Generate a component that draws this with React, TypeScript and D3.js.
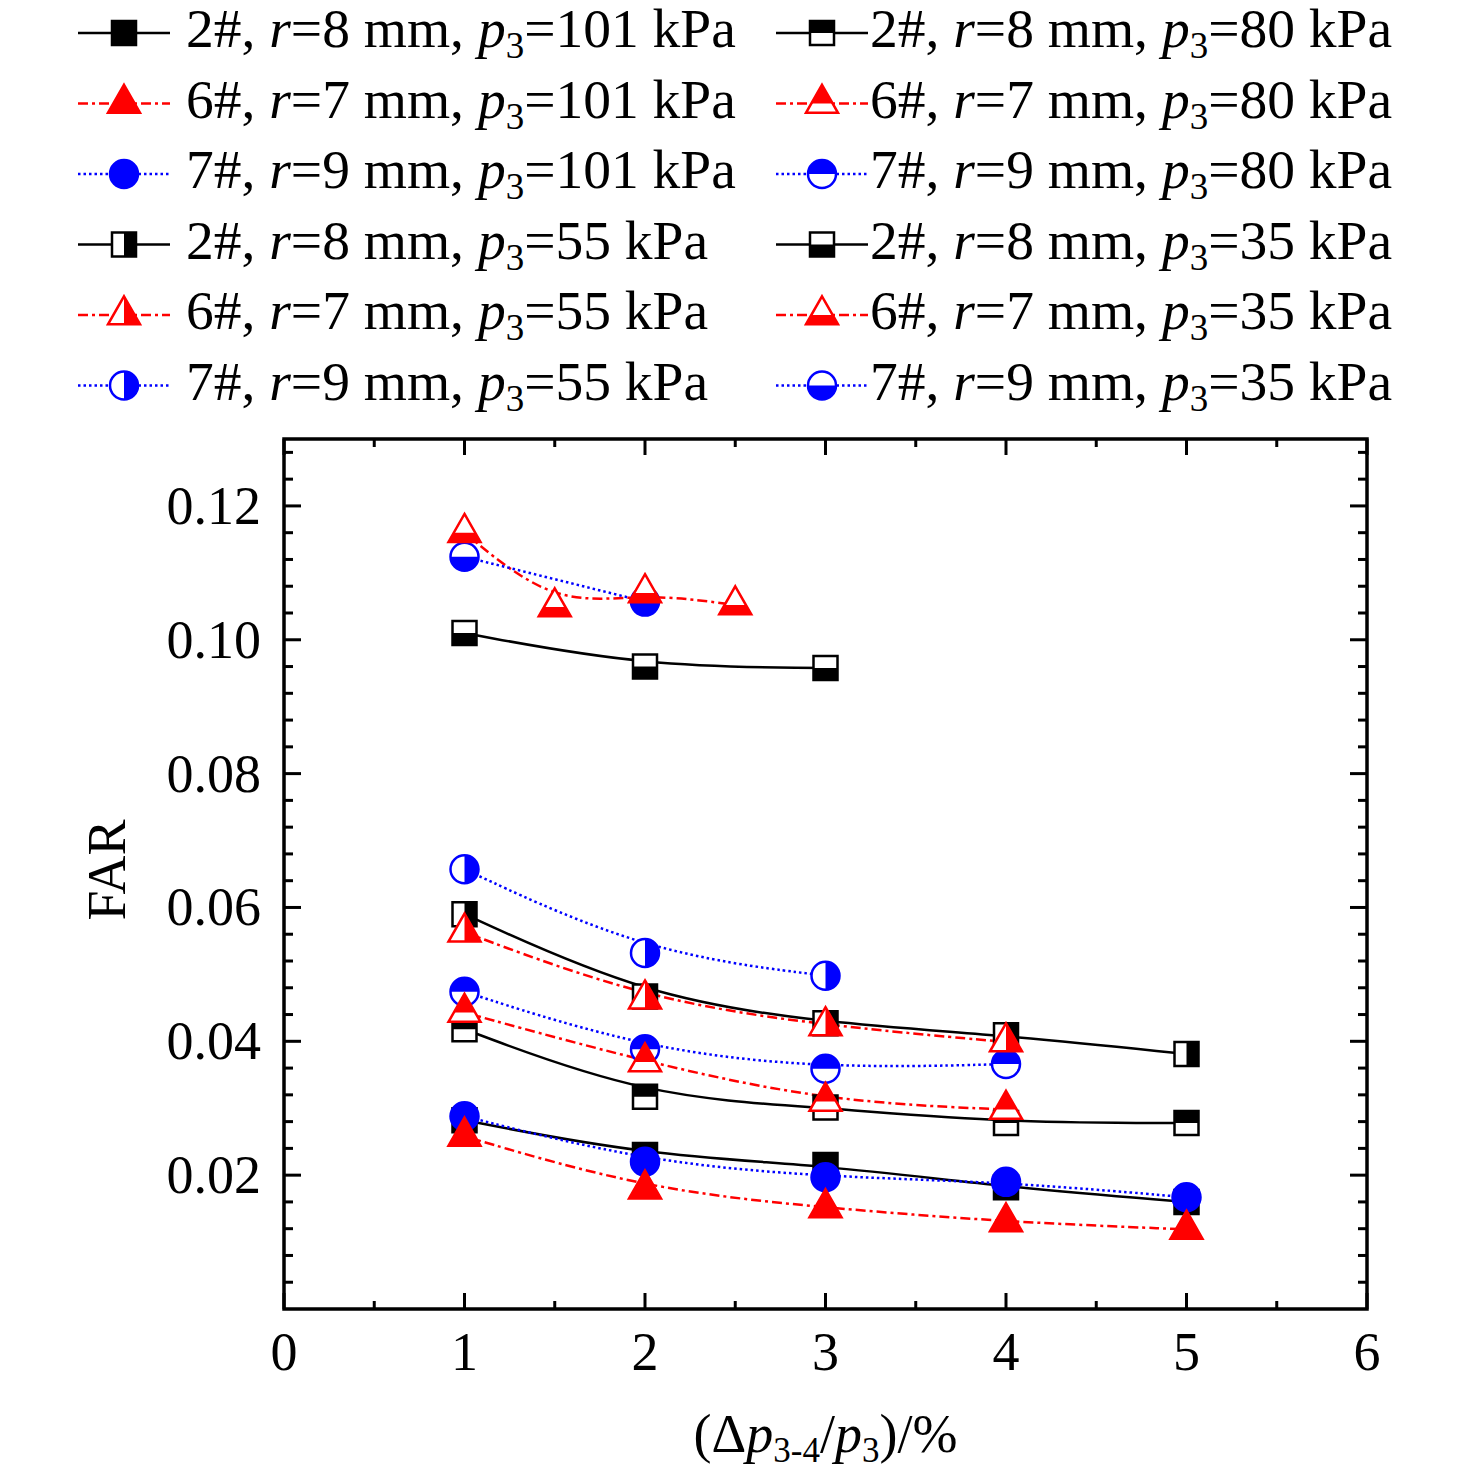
import React from "react";
import * as d3 from "d3";

// FAR vs (Δp3-4/p3) for specimens 2#, 6#, 7# at four inlet pressures

const W = 1476;
const H = 1475;
const margin = { top: 439, right: 109, bottom: 166, left: 284 };
const font = "'Liberation Serif', 'Times New Roman', serif";
const fontSize = 54;
const legendSize = 55.5;

const xTicks = [0, 1, 2, 3, 4, 5, 6];
const yTicks = [0.02, 0.04, 0.06, 0.08, 0.1, 0.12];
const yTickLabels = ["0.02", "0.04", "0.06", "0.08", "0.10", "0.12"];

const x5 = [1, 2, 3, 4, 5];
const x4 = [1, 2, 3, 4];
const x3 = [1, 2, 3];
const x2 = [1, 2];
const xHalf = [1, 1.5, 2, 2.5];

const s2p101 = [0.0282, 0.023, 0.0215, 0.0182, 0.016];
const s6p101 = [0.0258, 0.0179, 0.0151, 0.013, 0.0119];
const s7p101 = [0.0288, 0.022, 0.0197, 0.019, 0.0167];
const s2p80 = [0.0418, 0.0317, 0.0301, 0.0278, 0.0278];
const s6p80 = [0.0443, 0.0369, 0.031, 0.0298];
const s7p80 = [0.0474, 0.0388, 0.0359, 0.0366];
const s2p55 = [0.059, 0.0467, 0.0427, 0.0409, 0.0381];
const s6p55 = [0.0563, 0.0463, 0.0423, 0.0399];
const s7p55 = [0.0657, 0.0532, 0.0498];
const s2p35 = [0.101, 0.096, 0.0958];
const s6p35 = [0.116, 0.1049, 0.107, 0.1052];
const s7p35 = [0.1124, 0.1057];

type Spec = { id: string; r: string; color: string; shape: string; dash: string };
const specs: Record<string, Spec> = {
  "2": { id: "2", r: "8", color: "#000000", shape: "square", dash: "" },
  "6": { id: "6", r: "7", color: "#ff0000", shape: "triangle", dash: "10 4 3 4" },
  "7": { id: "7", r: "9", color: "#0000ff", shape: "circle", dash: "2.5 3" },
};
// which half of the marker is filled, per pressure
const fillOf: Record<string, string> = { "101": "full", "80": "top", "55": "right", "35": "bottom" };

const series = [
  { spec: "2", p: "101", xs: x5, ys: s2p101 },
  { spec: "6", p: "101", xs: x5, ys: s6p101 },
  { spec: "7", p: "101", xs: x5, ys: s7p101 },
  { spec: "2", p: "55", xs: x5, ys: s2p55 },
  { spec: "6", p: "55", xs: x4, ys: s6p55 },
  { spec: "7", p: "55", xs: x3, ys: s7p55 },
  { spec: "2", p: "80", xs: x5, ys: s2p80 },
  { spec: "6", p: "80", xs: x4, ys: s6p80 },
  { spec: "7", p: "80", xs: x4, ys: s7p80 },
  { spec: "2", p: "35", xs: x3, ys: s2p35 },
  { spec: "6", p: "35", xs: xHalf, ys: s6p35 },
  { spec: "7", p: "35", xs: x2, ys: s7p35 },
];

const shapePath = (shape: string) => {
  if (shape === "square") return "M-12,-12H12V12H-12Z";
  if (shape === "triangle") return "M0,-18.7L16,9.3L-16,9.3Z";
  return d3.symbol(d3.symbolCircle, Math.PI * 14 * 14)() as string;
};

const Marker = ({ x, y, spec, fill }: { x: number; y: number; spec: Spec; fill: string }) => {
  const d = shapePath(spec.shape);
  return (
    <g transform={`translate(${x},${y})`}>
      <path d={d} fill={fill === "full" ? spec.color : "#fff"} stroke={spec.color} strokeWidth={2.5} />
      {fill !== "full" && <path d={d} fill={spec.color} clipPath={`url(#half-${fill})`} />}
    </g>
  );
};

const LegendText = ({ x, y, spec, p }: { x: number; y: number; spec: Spec; p: string }) => (
  <text x={x} y={y} fontFamily={font} fontSize={legendSize}>
    {`${spec.id}#, `}
    <tspan fontStyle="italic">r</tspan>
    {`=${spec.r} mm, `}
    <tspan fontStyle="italic">p</tspan>
    <tspan fontSize={37} dy={11}>3</tspan>
    <tspan dy={-11}>{`=${p} kPa`}</tspan>
  </text>
);

export default function App() {
  const x = d3.scaleLinear().domain([0, 6]).range([margin.left, W - margin.right]);
  const y = d3.scaleLinear().domain([0, 0.13]).range([H - margin.bottom, margin.top]);
  const [x0, x1] = x.range();
  const [y0, y1] = y.range();

  const xMinor = d3.range(0.5, 6, 1);
  const yMinor = d3.range(0.004, 0.1301, 0.004).filter((v) => Math.abs(v / 0.02 - Math.round(v / 0.02)) > 1e-6);

  const line = d3
    .line<[number, number]>()
    .x((d) => x(d[0]))
    .y((d) => y(d[1]))
    .curve(d3.curveBasis);

  const shapeOrder = ["square", "circle", "triangle"];

  const legendLeft = [
    { spec: "2", p: "101" }, { spec: "6", p: "101" }, { spec: "7", p: "101" },
    { spec: "2", p: "55" }, { spec: "6", p: "55" }, { spec: "7", p: "55" },
  ];
  const legendRight = [
    { spec: "2", p: "80" }, { spec: "6", p: "80" }, { spec: "7", p: "80" },
    { spec: "2", p: "35" }, { spec: "6", p: "35" }, { spec: "7", p: "35" },
  ];
  const legendCols = [
    { items: legendLeft, lx0: 78, lx1: 170, mx: 124, tx: 186 },
    { items: legendRight, lx0: 776, lx1: 868, mx: 822, tx: 870 },
  ];

  return (
    <svg width={W} height={H} style={{ position: "absolute", left: 0, top: 0, background: "#fff" }}>
      <defs>
        <clipPath id="half-top"><rect x={-30} y={-30} width={60} height={30} /></clipPath>
        <clipPath id="half-bottom"><rect x={-30} y={0} width={60} height={30} /></clipPath>
        <clipPath id="half-right"><rect x={0} y={-30} width={30} height={60} /></clipPath>
        <clipPath id="half-left"><rect x={-30} y={-30} width={30} height={60} /></clipPath>
      </defs>
      <rect width={W} height={H} fill="#fff" />

      {/* legend */}
      {legendCols.map((col, ci) =>
        col.items.map((it, i) => {
          const spec = specs[it.spec];
          const by = 47 + i * 70.5;
          const ly = by - 14;
          return (
            <g key={`${ci}-${i}`}>
              <line x1={col.lx0} x2={col.lx1} y1={ly} y2={ly} stroke={spec.color} strokeWidth={2.5} strokeDasharray={spec.dash} />
              <Marker x={col.mx} y={ly} spec={spec} fill={fillOf[it.p]} />
              <LegendText x={col.tx} y={by} spec={spec} p={it.p} />
            </g>
          );
        })
      )}

      {/* lines */}
      {series.map((s, i) => {
        const spec = specs[s.spec];
        const pts = s.xs.map((v, j) => [v, s.ys[j]] as [number, number]);
        return (
          <path key={`l${i}`} d={line(pts) ?? ""} fill="none" stroke={spec.color} strokeWidth={2.5} strokeDasharray={spec.dash} />
        );
      })}

      {/* markers: squares, then circles, then triangles */}
      {shapeOrder.map((shape) =>
        series
          .filter((s) => specs[s.spec].shape === shape)
          .map((s, i) =>
            s.xs.map((v, j) => (
              <Marker key={`${shape}-${i}-${j}`} x={x(v)} y={y(s.ys[j])} spec={specs[s.spec]} fill={fillOf[s.p]} />
            ))
          )
      )}

      {/* frame and ticks */}
      <rect x={x0} y={y1} width={x1 - x0} height={y0 - y1} fill="none" stroke="#000" strokeWidth={3.5} />
      {xTicks.map((t) => (
        <g key={`xt${t}`}>
          <line x1={x(t)} x2={x(t)} y1={y0} y2={y0 - 16} stroke="#000" strokeWidth={3} />
          <line x1={x(t)} x2={x(t)} y1={y1} y2={y1 + 16} stroke="#000" strokeWidth={3} />
          <text x={x(t)} y={1370} textAnchor="middle" fontFamily={font} fontSize={fontSize}>{t}</text>
        </g>
      ))}
      {xMinor.map((t) => (
        <g key={`xm${t}`}>
          <line x1={x(t)} x2={x(t)} y1={y0} y2={y0 - 8} stroke="#000" strokeWidth={3} />
          <line x1={x(t)} x2={x(t)} y1={y1} y2={y1 + 8} stroke="#000" strokeWidth={3} />
        </g>
      ))}
      {yTicks.map((t, i) => (
        <g key={`yt${t}`}>
          <line x1={x0} x2={x0 + 17} y1={y(t)} y2={y(t)} stroke="#000" strokeWidth={3} />
          <line x1={x1} x2={x1 - 17} y1={y(t)} y2={y(t)} stroke="#000" strokeWidth={3} />
          <text x={261} y={y(t) + 18} textAnchor="end" fontFamily={font} fontSize={fontSize}>{yTickLabels[i]}</text>
        </g>
      ))}
      {yMinor.map((t) => (
        <g key={`ym${t}`}>
          <line x1={x0} x2={x0 + 9} y1={y(t)} y2={y(t)} stroke="#000" strokeWidth={3} />
          <line x1={x1} x2={x1 - 9} y1={y(t)} y2={y(t)} stroke="#000" strokeWidth={3} />
        </g>
      ))}

      {/* axis titles */}
      <text transform="translate(125,870) rotate(-90)" textAnchor="middle" fontFamily={font} fontSize={fontSize}>FAR</text>
      <text x={(x0 + x1) / 2} y={1452} textAnchor="middle" fontFamily={font} fontSize={fontSize}>
        (Δ<tspan fontStyle="italic">p</tspan>
        <tspan fontSize={35} dy={10}>3-4</tspan>
        <tspan dy={-10}>/</tspan>
        <tspan fontStyle="italic">p</tspan>
        <tspan fontSize={35} dy={10}>3</tspan>
        <tspan dy={-10}>)/%</tspan>
      </text>
    </svg>
  );
}
